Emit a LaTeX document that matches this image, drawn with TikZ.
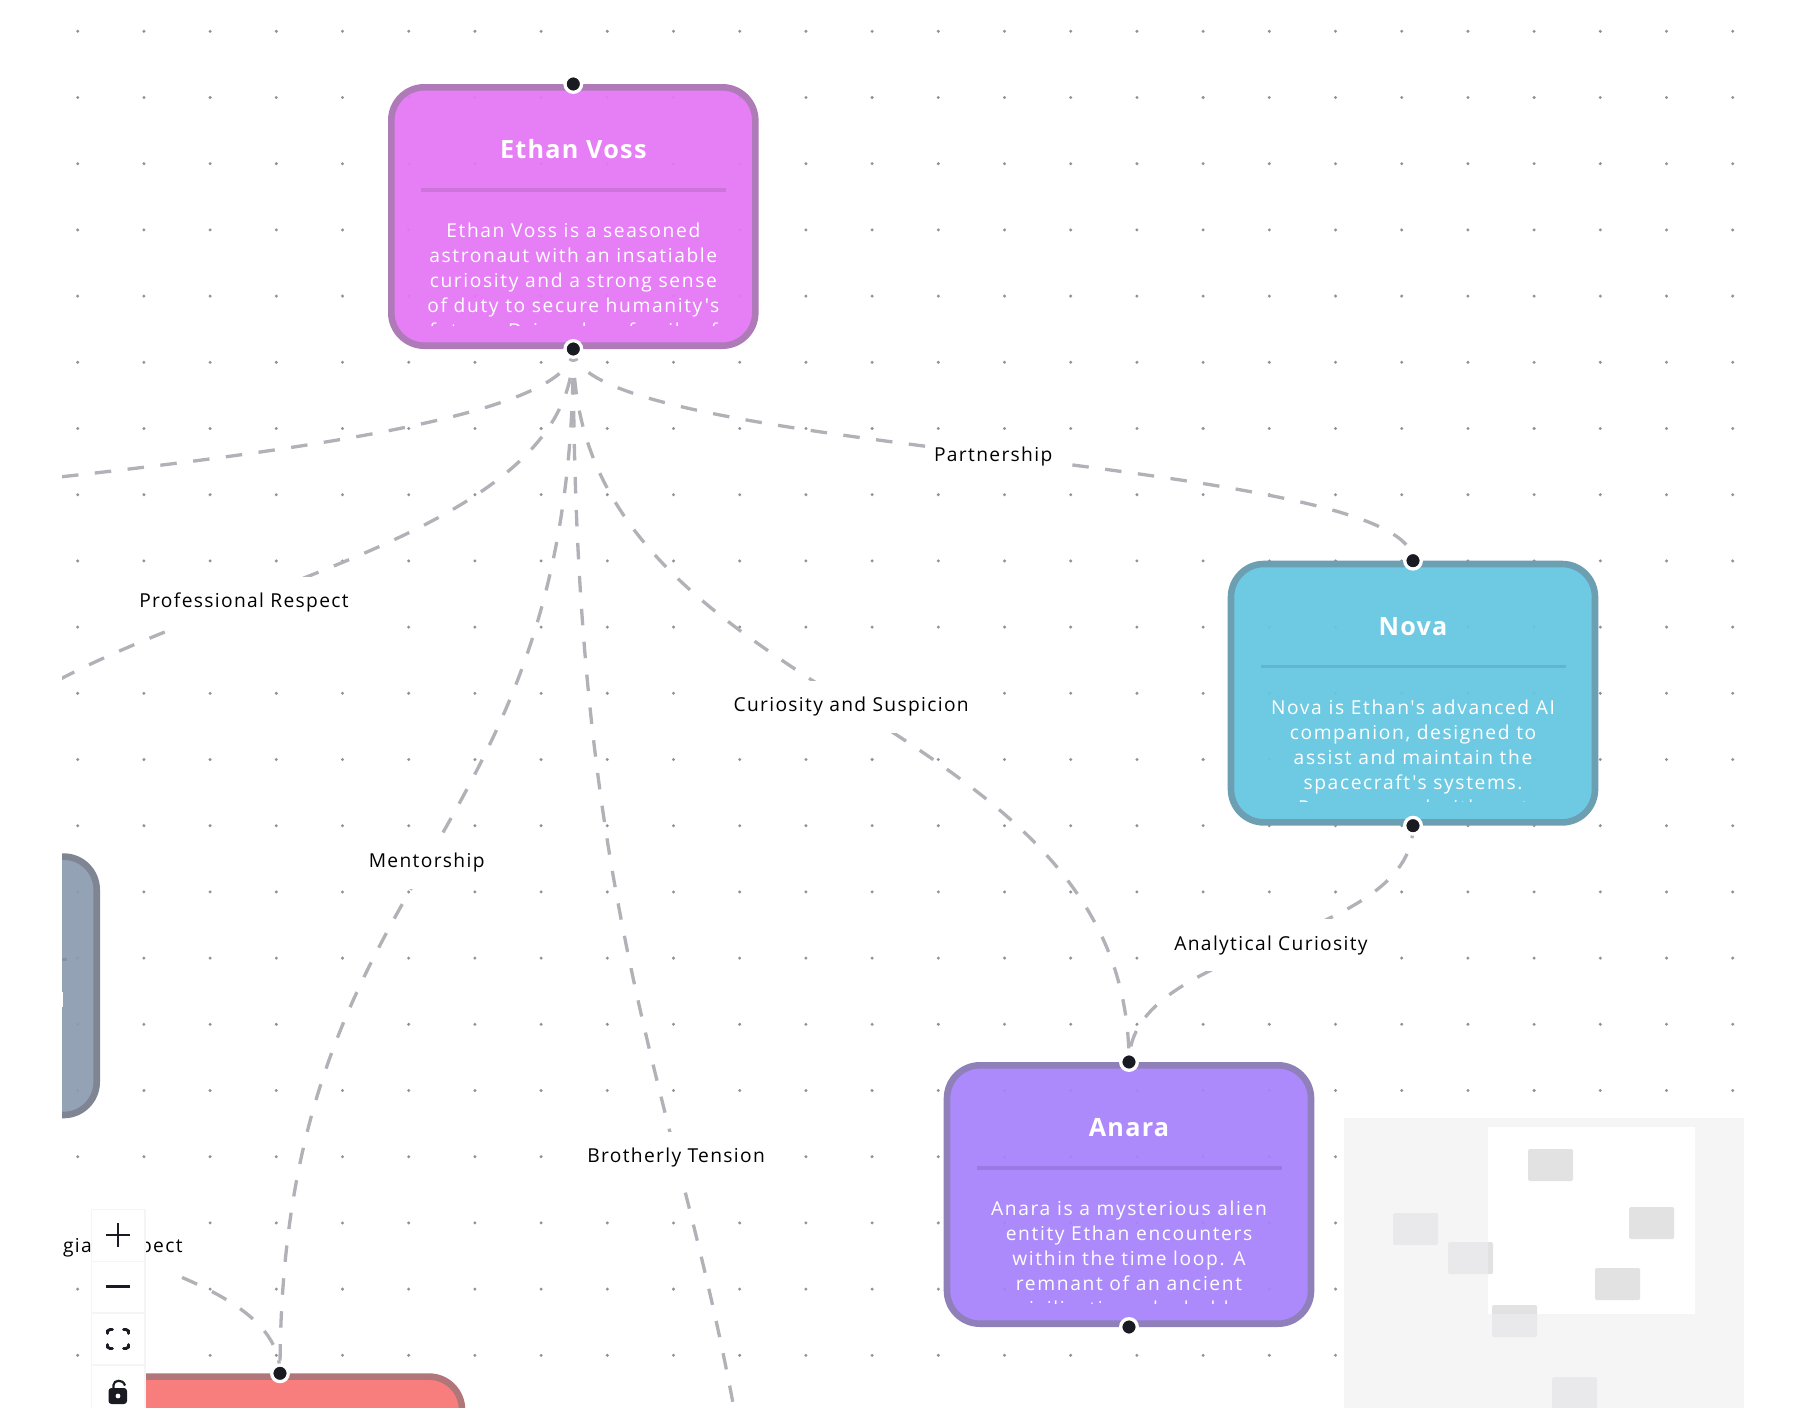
\documentclass[tikz,border=0pt]{standalone}
\usepackage{fontspec}
\usetikzlibrary{calc}
\setmainfont{Open Sans}
\newfontfamily\bodyface[LetterSpace=8.5]{Open Sans}
\newfontfamily\labelface[LetterSpace=7]{Open Sans}
\newfontfamily\titleface[LetterSpace=5]{Open Sans}
\definecolor{ethanFill}{HTML}{E576F5}\definecolor{ethanEdge}{HTML}{AE7AB8}
\definecolor{novaFill}{HTML}{63C7E0}\definecolor{novaEdge}{HTML}{6D9FB3}
\definecolor{anaraFill}{HTML}{A782FB}\definecolor{anaraEdge}{HTML}{8F80BA}
\definecolor{slateFill}{HTML}{8C9BB1}\definecolor{slateEdge}{HTML}{808593}
\definecolor{redFill}{HTML}{F87575}\definecolor{redEdge}{HTML}{B0767A}
\definecolor{linkGrey}{HTML}{B1B1B7}\definecolor{dotGrey}{HTML}{91919A}
\definecolor{inkBlack}{HTML}{1A1A22}
\definecolor{miniBg}{HTML}{F5F5F5}\definecolor{miniDim}{HTML}{E9E9EB}\definecolor{miniLit}{HTML}{E2E2E2}
\pgfdeclarelayer{gridlayer}\pgfdeclarelayer{linklayer}
\pgfsetlayers{gridlayer,linklayer,main}
\tikzset{
  card/.style={rectangle,rounded corners=33pt,minimum width=364pt,minimum height=258.4pt,
    inner sep=0pt,outer sep=3.3pt,line width=6.6pt,fill opacity=.93,draw opacity=1,text opacity=1},
  porthole/.style={circle,inner sep=0pt,minimum size=16.6pt,line width=3.3pt,draw=white,fill=inkBlack},
  titletext/.style={inner sep=0pt,anchor=base,text=white,font=\titleface\bfseries\fontsize{25.2}{29}\selectfont},
  bodytext/.style={inner sep=0pt,anchor=north,text=white,align=center,font=\bodyface\fontsize{19.2}{24.9}\selectfont},
  linkline/.style={draw=linkGrey,line width=3.3pt,dash pattern=on 16.5pt off 16.5pt,dash phase=4pt},
  linklabel/.style={fill=white,inner xsep=6.6pt,inner ysep=0pt,minimum height=52pt,text=black,font=\labelface\fontsize{19.2}{22}\selectfont},
  btn/.style={fill=white},
  icon/.style={draw=inkBlack,line width=2.7pt},
}
\newcommand{\flowcard}[5]{% id, cx, top, fill, border
  \node[card,fill=#4,draw=#5] (#1) at ({#2},{#3+132.5}) {};
  \fill[black,opacity=.1] ({#2-152.5},{#3+104.4}) rectangle ({#2+152.5},{#3+107.7});
  \node[porthole] (#1T) at ($(#1.north)$) {};
  \node[porthole] (#1B) at ($(#1.south)$) {};
}
\newcommand{\cardtext}[5]{% id, cx, top, title, body
  \node[titletext] (#1title) at ({#2},{#3+74.6}) {#4};
  \begin{scope}
    \clip ({#2-180},{#3}) rectangle ({#2+180},{#3+241});
    \node[bodytext] (#1body) at ({#2},{#3+136.3}) {\strut #5};
  \end{scope}
}
\newcommand{\flowedge}[4]{% from, to, mid name, label
  \coordinate (#3) at ($(#1)!.5!(#2)$);
  \draw[linkline] (#1.center) .. controls (#1.center |- #3) and (#2.center |- #3) .. (#2.center);
}
\newcommand{\flowlabel}[2]{\node[linklabel,yshift=-1.5pt] (#1lab) at (#1) {#2};}
\newcommand{\mininodes}[1]{
  \foreach \mx/\my in {1528/1149,1629/1207,1595/1268,1448/1242,1393/1213,1492/1305,1552/1377}
    \fill[#1,rounded corners=1.5pt] (\mx,\my) rectangle ++(45,32);
}
\begin{document}
\begin{tikzpicture}[x=1pt,y=-1pt]
\useasboundingbox (0,0) rectangle (1808,1408);
\begin{pgfonlayer}{gridlayer}
  \fill[white] (0,0) rectangle (1808,1408);
  \begin{scope}
    \clip (62,0) rectangle (1744,1408);
    \foreach \i in {0,...,25}
      \foreach \j in {0,...,20}
        \fill[dotGrey] ({77.7+66.2*\i},{31.3+66.2*\j}) circle[radius=1.65pt];
  \end{scope}
\end{pgfonlayer}
\begin{scope}
  \clip (62,0) rectangle (1744,1408);
  \flowcard{ethan}{573.3}{84}{ethanFill}{ethanEdge}
  \flowcard{nova}{1413}{560.7}{novaFill}{novaEdge}
  \flowcard{anara}{1129}{1062}{anaraFill}{anaraEdge}
  \flowcard{slate}{-85.3}{853.3}{slateFill}{slateEdge}
  \flowcard{coral}{280}{1373.3}{redFill}{redEdge}
  \cardtext{ethan}{573.3}{84}{Ethan Voss}{Ethan Voss is a seasoned\\astronaut with an insatiable\\curiosity and a strong sense\\of duty to secure humanity's\\future. Driven by a family of}
  \cardtext{nova}{1413}{560.7}{Nova}{Nova is Ethan's advanced AI\\companion, designed to\\assist and maintain the\\spacecraft's systems.\\Programmed with vast}
  \cardtext{anara}{1129}{1062}{Anara}{Anara is a mysterious alien\\entity Ethan encounters\\within the time loop. A\\remnant of an ancient\\civilization, she holds}
  \fill[white] (62,992) rectangle (63.3,1007);
\end{scope}
\coordinate (farWest) at (-975,659);
\coordinate (farSouth) at (779,1964);
\begin{pgfonlayer}{linklayer}
  \begin{scope}
    \clip (62,0) rectangle (1744,1408);
    \flowedge{ethanB}{farWest}{mFar}{}
    \flowedge{ethanB}{novaT}{mPartner}{}
    \flowedge{ethanB}{slateT}{mRespect}{}
    \flowedge{ethanB}{coralT}{mMentor}{}
    \flowedge{ethanB}{farSouth}{mBrother}{}
    \flowedge{ethanB}{anaraT}{mCurious}{}
    \flowedge{novaB}{anaraT}{mAnalyt}{}
    \flowedge{slateB}{coralT}{mColleg}{}
    \flowlabel{mPartner}{Partnership}
    \flowlabel{mRespect}{Professional Respect}
    \flowlabel{mMentor}{Mentorship}
    \flowlabel{mBrother}{Brotherly Tension}
    \flowlabel{mCurious}{Curiosity and Suspicion}
    \flowlabel{mAnalyt}{Analytical Curiosity}
    \flowlabel{mColleg}{Collegial Respect}
  \end{scope}
\end{pgfonlayer}
% minimap
\fill[miniBg] (1344,1118) rectangle (1744,1408);
\mininodes{miniDim}
\fill[white] (1488,1127.3) rectangle (1695.3,1313.7);
\begin{scope}
  \clip (1488,1127.3) rectangle (1695.3,1313.7);
  \mininodes{miniLit}
\end{scope}
% controls
\fill[miniBg] (90.5,1208.5) rectangle (145.5,1408);
\fill[btn] (92,1210) rectangle (144,1260.5);
\fill[btn] (92,1262) rectangle (144,1312);
\fill[btn] (92,1314) rectangle (144,1364);
\fill[btn] (92,1366) rectangle (144,1408);
\draw[icon] (106,1235) -- (130,1235) (118,1223) -- (118,1247);
\draw[icon,line width=3.4pt] (106,1286.3) -- (130,1286.3);
\draw[icon,line width=2.9pt,line cap=round]
  (107.5,1333.5) -- (107.5,1331) -- (110,1329.5) -- (112.5,1329.5)
  (123.5,1329.5) -- (126,1329.5) -- (128.5,1331) -- (128.5,1333.5)
  (128.5,1344.5) -- (128.5,1347) -- (126,1348.5) -- (123.5,1348.5)
  (112.5,1348.5) -- (110,1348.5) -- (107.5,1347) -- (107.5,1344.5);
\fill[inkBlack,rounded corners=3pt] (108.5,1388) rectangle (127,1404);
\fill[white] (118,1396) circle[radius=2.4pt];
\draw[icon,line width=2.2pt] (113.5,1389) -- (113.5,1385) .. controls (113.5,1380) and (123,1378.5) .. (125,1385.5);
\end{tikzpicture}
\end{document}
